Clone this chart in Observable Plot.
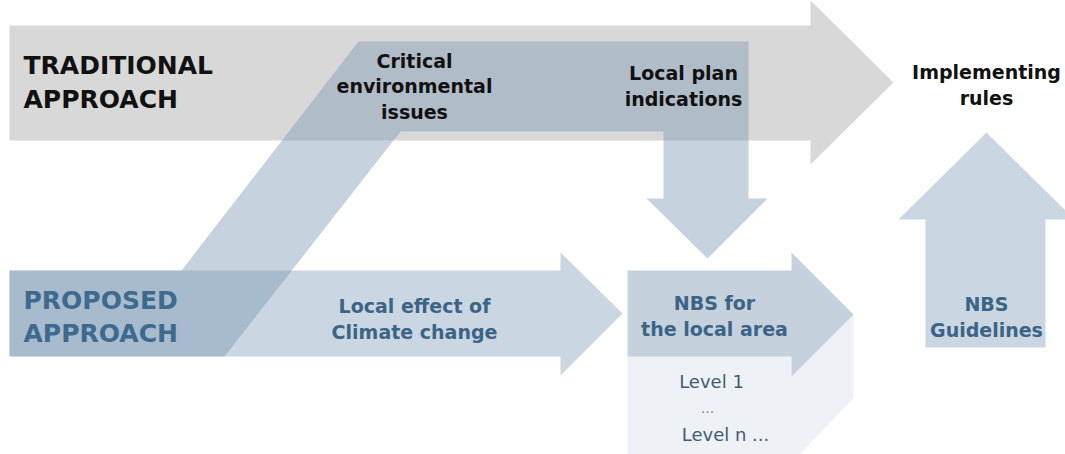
<!DOCTYPE html>
<html><head><meta charset="utf-8">
<script src="https://cdn.jsdelivr.net/npm/d3@7"></script>
<script src="https://cdn.jsdelivr.net/npm/@observablehq/plot@0.6"></script>
<style>html,body{margin:0;padding:0;background:#fff;overflow:hidden}</style>
</head><body><div id="chart"></div>
<script>
const W = 1065, H = 454;

// Shape outlines, in diagram units
const traditionalArrow = [[9,25],[810,25],[810,0],[893,82],[810,164],[810,140],[9,140]];
const proposedArrow = [[9,270],[560,270],[560,252],[622,313],[560,375],[560,356],[9,356]];
const nbsShadow = [[627,356],[627,456],[797,456],[853,398],[853,314]];
const nbsArrow = [[627,270],[791,270],[791,252],[853,314],[791,376],[791,356],[627,356]];
const guidelinesArrow = [[925,347],[925,219],[898,219],[986,132],[1074,219],[1045,219],[1045,347]];
const linkBand = [[9,270],[181,270],[358,41],[748,41],[748,198],[767,198],[707,258],[646,198],[663,198],[663,131],[400,131],[224,356],[9,356]];

// Labels
const headTexts = ["TRADITIONAL\nAPPROACH"];
const headX = [23], headY = [107];
const blackTexts = ["Critical\nenvironmental\nissues", "Local plan\nindications", "Implementing\nrules"];
const blackX = [414, 683, 986], blackY = [118, 105, 104];
const proposedTexts = ["PROPOSED\nAPPROACH"];
const proposedX = [23], proposedY = [341];
const blueTexts = ["Local effect of\nClimate change", "NBS for\nthe local area", "NBS\nGuidelines"];
const blueX = [414, 714, 986], blueY = [338, 335, 336];
const levelTexts = ["Level 1", "Level n ..."];
const levelX = [711, 725], levelY = [387, 440];
const dotsText = ["..."];
const dotsX = [707], dotsY = [412];

const toPts = a => a.map(([x, y]) => ({x, y}));
const zipT = (t, xs, ys) => t.map((s, i) => ({text: s, x: xs[i], y: ys[i]}));

const poly = (pts, fill, extra = {}) =>
  Plot.line(toPts(pts), {x: "x", y: "y", fill, stroke: "none", curve: "linear-closed", ...extra});

const chart = Plot.plot({
  width: W, height: H,
  margin: 0,
  x: {axis: null, domain: [0, W], range: [0, W]},
  y: {axis: null, domain: [0, H], range: [0, H]},
  style: {fontFamily: "'DejaVu Sans', Verdana, sans-serif", background: "#fff", overflow: "hidden"},
  marks: [
    poly(traditionalArrow, "#d8d8d8"),
    poly(proposedArrow, "#cad6e1"),
    poly(nbsShadow, "#eef2f6"),
    poly(nbsArrow, "#c5d1dd"),
    poly(guidelinesArrow, "#cad6e1"),
    poly(linkBand, "#7c97b2", {fillOpacity: 0.43}),
    Plot.text(zipT(headTexts, headX, headY), {x: "x", y: "y", text: "text", textAnchor: "start", lineAnchor: "bottom", lineHeight: 1.36, fontSize: 25, fontWeight: "bold", fill: "#111"}),
    Plot.text(zipT(blackTexts, blackX, blackY), {x: "x", y: "y", text: "text", textAnchor: "middle", lineAnchor: "bottom", lineHeight: 1.32, fontSize: 19, fontWeight: "bold", fill: "#111"}),
    Plot.text(zipT(proposedTexts, proposedX, proposedY), {x: "x", y: "y", text: "text", textAnchor: "start", lineAnchor: "bottom", lineHeight: 1.32, fontSize: 25, fontWeight: "bold", fill: "#3d6a8e"}),
    Plot.text(zipT(blueTexts, blueX, blueY), {x: "x", y: "y", text: "text", textAnchor: "middle", lineAnchor: "bottom", lineHeight: 1.32, fontSize: 19, fontWeight: "bold", fill: "#3b6486"}),
    Plot.text(zipT(levelTexts, levelX, levelY), {x: "x", y: "y", text: "text", textAnchor: "middle", lineAnchor: "bottom", fontSize: 18, fill: "#435b71"}),
    Plot.text(zipT(dotsText, dotsX, dotsY), {x: "x", y: "y", text: "text", textAnchor: "middle", lineAnchor: "bottom", fontSize: 14, fill: "#7a8c9c"})
  ]
});
document.getElementById("chart").appendChild(chart);
</script>
</body></html>
